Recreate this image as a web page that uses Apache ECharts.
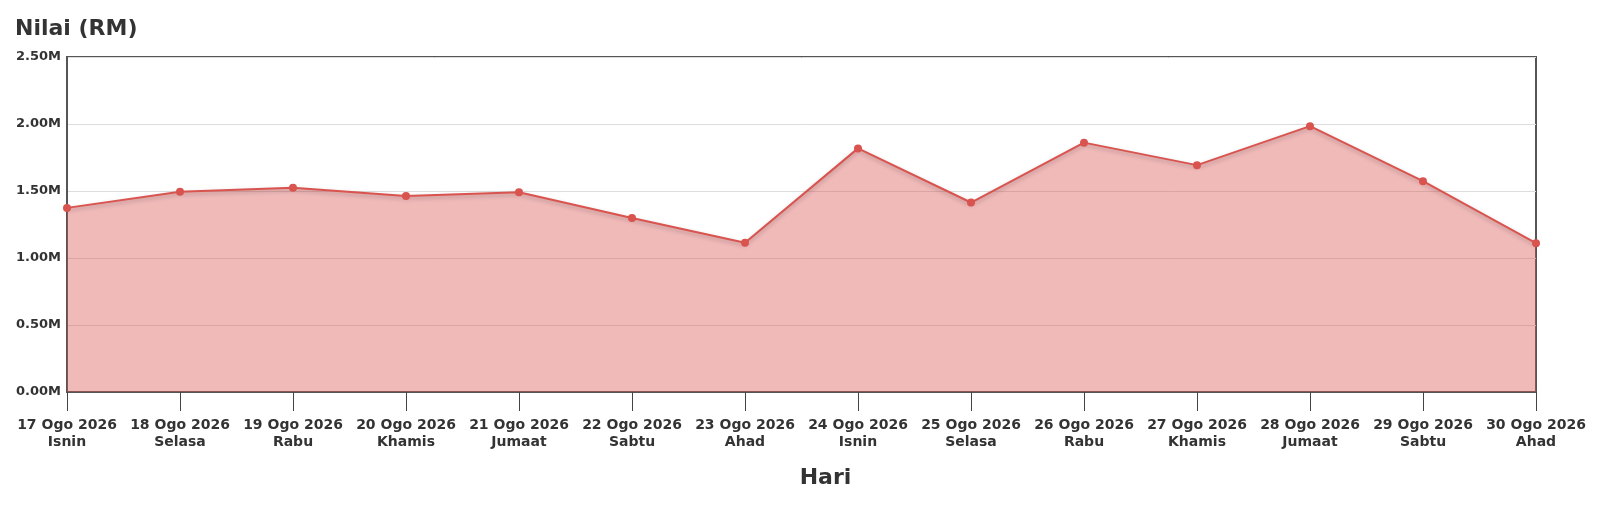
<!DOCTYPE html>
<html>
<head>
<meta charset="utf-8">
<script src="https://cdn.jsdelivr.net/npm/echarts@6/dist/echarts.min.js"></script>
<style>
html,body{margin:0;padding:0;background:#fff;}
#chart{width:1600px;height:523px;}
</style>
</head>
<body>
<div id="chart"></div>
<script>
const dates = ['17 Ogo 2026','18 Ogo 2026','19 Ogo 2026','20 Ogo 2026','21 Ogo 2026','22 Ogo 2026','23 Ogo 2026','24 Ogo 2026','25 Ogo 2026','26 Ogo 2026','27 Ogo 2026','28 Ogo 2026','29 Ogo 2026','30 Ogo 2026'];
const days = ['Isnin','Selasa','Rabu','Khamis','Jumaat','Sabtu','Ahad','Isnin','Selasa','Rabu','Khamis','Jumaat','Sabtu','Ahad'];
const values = [1374000,1495000,1525000,1463000,1490000,1299000,1114000,1818000,1414000,1861000,1693000,1984000,1573000,1111000];
const yTicks = [0, 500000, 1000000, 1500000, 2000000, 2500000];

const categories = dates.map((d, i) => d + '\n' + days[i]);
const font = 'DejaVu Sans';
const chart = echarts.init(document.getElementById('chart'));
chart.setOption({
  animation: false,
  backgroundColor: '#fff',
  title: {
    text: 'Nilai (RM)', left: 10, top: 13,
    textStyle: {fontFamily: font, fontSize: 22, fontWeight: 'bold', color: '#333'}
  },
  grid: {left: 67, right: 64, top: 57, bottom: 131, show: true, borderColor: '#555', borderWidth: 2, backgroundColor: 'transparent'},
  xAxis: {
    type: 'category', data: categories, boundaryGap: false,
    name: 'Hari', nameLocation: 'middle', nameGap: 75,
    nameTextStyle: {fontFamily: font, fontSize: 22, fontWeight: 'bold', color: '#333', padding: [0, 0, 0, 48]},
    axisLine: {show: true, lineStyle: {color: '#555', width: 2}},
    axisTick: {show: true, length: 19, alignWithLabel: true, lineStyle: {color: '#444', width: 1}},
    axisLabel: {margin: 25, interval: 0, fontFamily: font, fontSize: 14, fontWeight: 'bold', color: '#333', lineHeight: 17},
    splitLine: {show: false}
  },
  yAxis: {
    type: 'value', min: 0, max: 2500000, interval: 500000,
    axisLine: {show: true, lineStyle: {color: '#555', width: 2}},
    axisTick: {show: false},
    axisLabel: {margin: 6, fontFamily: font, fontSize: 13, fontWeight: 'bold', color: '#333',
      formatter: v => (v / 1e6).toFixed(2) + 'M'},
    splitLine: {show: true, lineStyle: {color: '#ddd', width: 1}}
  },
  series: [{
    type: 'line', data: values,
    symbol: 'circle', symbolSize: 8,
    itemStyle: {color: '#d9534f'},
    lineStyle: {color: '#d9534f', width: 2, shadowColor: 'rgba(0,0,0,0.25)', shadowBlur: 4, shadowOffsetY: 2},
    areaStyle: {color: '#d9534f', opacity: 0.4},
    z: 3
  }]
});
</script>
</body>
</html>
